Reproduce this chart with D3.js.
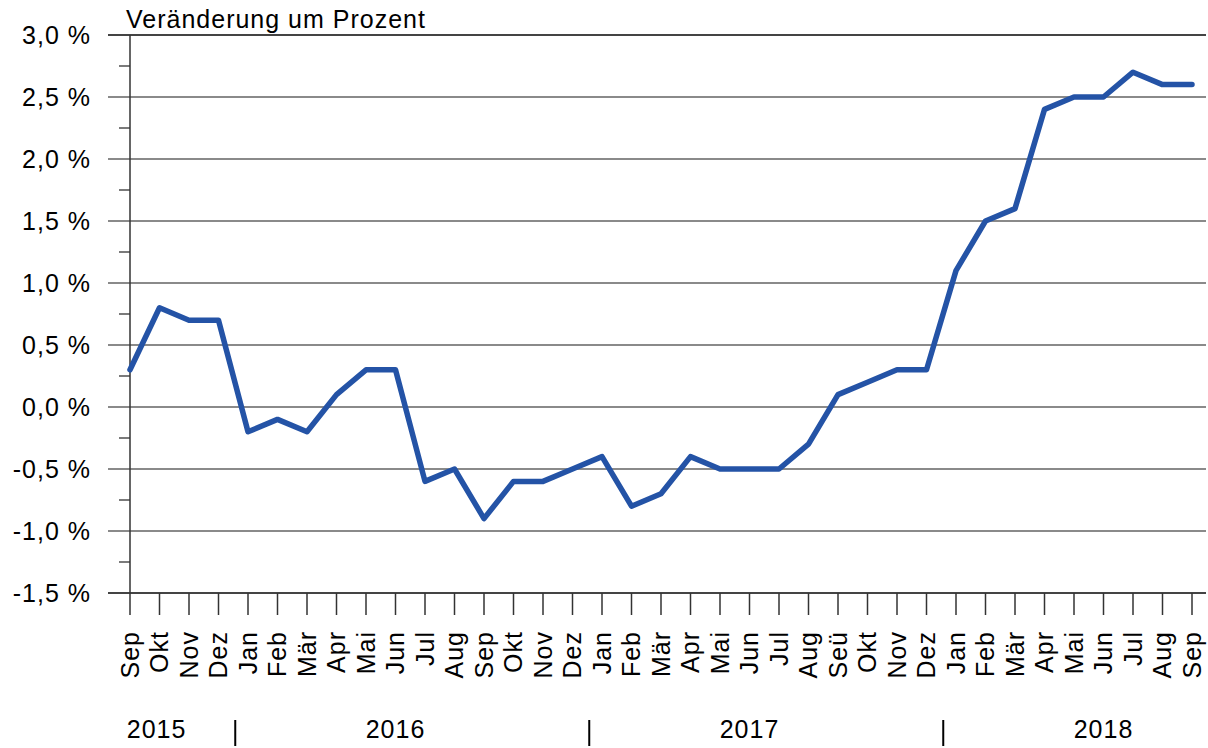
<!DOCTYPE html>
<html>
<head>
<meta charset="utf-8">
<script src="https://cdn.jsdelivr.net/npm/d3@7"></script>
<style>
  body { margin: 0; background: #fff; }
  svg text { font-family: "Liberation Sans", Arial, sans-serif; fill: #000; letter-spacing: 1px; }
</style>
</head>
<body>
<svg id="chart" width="1208" height="748"></svg>
<script>
// monthly values, Sep 2015 - Sep 2018
const months = ["Sep","Okt","Nov","Dez",
  "Jan","Feb","Mär","Apr","Mai","Jun","Jul","Aug","Sep","Okt","Nov","Dez",
  "Jan","Feb","Mär","Apr","Mai","Jun","Jul","Aug","Seü","Okt","Nov","Dez",
  "Jan","Feb","Mär","Apr","Mai","Jun","Jul","Aug","Sep"];
const values = [0.3, 0.8, 0.7, 0.7,
  -0.2, -0.1, -0.2, 0.1, 0.3, 0.3, -0.6, -0.5, -0.9, -0.6, -0.6, -0.5,
  -0.4, -0.8, -0.7, -0.4, -0.5, -0.5, -0.5, -0.3, 0.1, 0.2, 0.3, 0.3,
  1.1, 1.5, 1.6, 2.4, 2.5, 2.5, 2.7, 2.6, 2.6];
const years = ["2015", "2016", "2017", "2018"];
const yTicks = [-1.5, -1.0, -0.5, 0.0, 0.5, 1.0, 1.5, 2.0, 2.5, 3.0];
const title = "Veränderung um Prozent";

const svg = d3.select("#chart");
const fs = 25;

let x = d3.scalePoint().domain(d3.range(months.length)).range([130, 1192]);
let y = d3.scaleLinear().domain([-1.5, 3.0]).range([593, 35]);

const de = d3.formatLocale({decimal: ",", thousands: ".", grouping: [3], currency: ["", "€"], minus: "-"});
const fmt = de.format(".1f");

// grid lines
svg.append("g").selectAll("line")
  .data(yTicks)
  .enter().append("line")
  .attr("x1", 108).attr("x2", 1206)
  .attr("y1", d => y(d)).attr("y2", d => y(d))
  .attr("stroke", d => (d === 3.0 || d === -1.5) ? "#444" : "#8a8a8a")
  .attr("stroke-width", 2);

// minor ticks on y axis
svg.append("g").selectAll("line")
  .data(yTicks.slice(0, -1).map(d => d + 0.25))
  .enter().append("line")
  .attr("x1", 119).attr("x2", 130)
  .attr("y1", d => y(d)).attr("y2", d => y(d))
  .attr("stroke", "#222").attr("stroke-width", 1.2);

// y axis line
svg.append("line")
  .attr("x1", 130).attr("x2", 130)
  .attr("y1", y(3.0)).attr("y2", y(-1.5))
  .attr("stroke", "#333").attr("stroke-width", 1.5);

// y labels
svg.append("g").selectAll("text")
  .data(yTicks)
  .enter().append("text")
  .attr("x", 91).attr("y", d => y(d))
  .attr("dy", "0.35em")
  .attr("text-anchor", "end")
  .style("font-size", fs + "px")
  .text(d => fmt(d) + " %");

// x ticks
svg.append("g").selectAll("line")
  .data(d3.range(months.length))
  .enter().append("line")
  .attr("x1", d => x(d)).attr("x2", d => x(d))
  .attr("y1", y(-1.5)).attr("y2", 615)
  .attr("stroke", "#333").attr("stroke-width", 1.5);

// month labels
svg.append("g").selectAll("text")
  .data(months)
  .enter().append("text")
  .attr("transform", (d, i) => "translate(" + x(i) + ",631) rotate(-90)")
  .attr("dy", "0.35em")
  .attr("text-anchor", "end")
  .style("font-size", fs + "px")
  .text(d => d);

// year labels and separators
const yearAt = [0.9, 9, 21, 33];
svg.append("g").selectAll("text")
  .data(years)
  .enter().append("text")
  .attr("x", (d, i) => 130 + yearAt[i] * x.step())
  .attr("y", 738)
  .attr("text-anchor", "middle")
  .style("font-size", fs + "px")
  .text(d => d);

const janIdx = months.map((m, i) => m === "Jan" ? i : -1).filter(i => i >= 0);
svg.append("g").selectAll("line")
  .data(janIdx)
  .enter().append("line")
  .attr("x1", d => x(d) - x.step() / 2 + 2).attr("x2", d => x(d) - x.step() / 2 + 2)
  .attr("y1", 720).attr("y2", 746)
  .attr("stroke", "#000").attr("stroke-width", 2);

// title
svg.append("text")
  .attr("x", 126).attr("y", 28)
  .style("font-size", fs + "px")
  .text(title);

// line
let line = d3.line()
  .x((d, i) => x(i))
  .y(d => y(d));

svg.append("path")
  .datum(values)
  .attr("fill", "none")
  .attr("stroke", "#2453a6")
  .attr("stroke-width", 5.5)
  .attr("stroke-linejoin", "round")
  .attr("stroke-linecap", "round")
  .attr("d", line);
</script>
</body>
</html>
